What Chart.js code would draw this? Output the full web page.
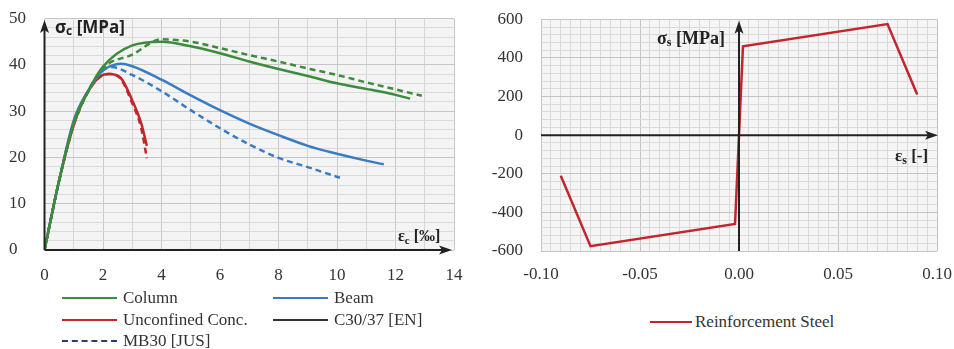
<!DOCTYPE html>
<html>
<head>
<meta charset="utf-8">
<script src="https://cdn.jsdelivr.net/npm/chart.js@4.4.1/dist/chart.umd.min.js"></script>
<style>
  html, body { margin: 0; padding: 0; background: #fff; }
  #wrap { position: relative; width: 954px; height: 349px; overflow: hidden; background: #fff; }
  .cbox { position: absolute; top: 0; height: 290px; width: 477px; }
  .leg { position: absolute; font: 17px "Liberation Serif", serif; color: #333; white-space: nowrap; line-height: 17px; }
  .sw { position: absolute; height: 0; border-top: 2px solid; }
</style>
</head>
<body>
<div id="wrap">
  <div class="cbox" style="left:0"><canvas id="c1"></canvas></div>
  <div class="cbox" style="left:477px"><canvas id="c2"></canvas></div>
  <div id="legends"></div>
</div>
<script>
// ---------- DATA ----------
const columnEN_x = [0, 0.5, 1, 1.5, 2, 3, 4, 5, 6, 7, 8, 9, 10, 11, 12, 12.5];
const columnEN_y = [0, 15, 27.5, 34.4, 39.6, 44.2, 45, 44, 42.5, 40.7, 39.1, 37.6, 36, 34.8, 33.5, 32.7];
const columnJUS_x = [0, 0.5, 1, 1.5, 2, 3, 4, 5, 6, 7, 8, 9, 10, 11, 12, 12.9];
const columnJUS_y = [0, 15, 27, 34.3, 39.3, 42.2, 45.5, 45, 43.6, 42.1, 40.7, 39.2, 37.8, 36.2, 34.7, 33.3];
const beamEN_x = [0, 0.5, 1, 1.5, 2, 2.3, 2.6, 3, 4, 5, 6, 7, 8, 9, 10, 11, 11.6];
const beamEN_y = [0, 15, 28, 34.5, 38.8, 39.8, 40.2, 39.7, 36.8, 33.4, 30.2, 27.3, 24.8, 22.5, 20.8, 19.3, 18.5];
const beamJUS_x = [0, 0.5, 1, 1.5, 2, 2.3, 3, 4, 5, 6, 7, 8, 9, 10.1];
const beamJUS_y = [0, 15, 27.5, 34.5, 38.8, 39.5, 37.8, 34.3, 30.2, 26.3, 22.8, 19.9, 17.9, 15.6];
const unconfEN_x = [0, 0.5, 1, 1.5, 2, 2.2, 2.6, 3, 3.3, 3.5];
const unconfEN_y = [0, 15, 27, 34.3, 37.8, 38, 37.2, 32.3, 27.5, 22.5];
const unconfJUS_x = [0, 0.5, 1, 1.5, 2, 2.2, 2.6, 3, 3.3, 3.5];
const unconfJUS_y = [0, 15, 27, 34.3, 37.8, 38, 37, 31.7, 26.5, 19.8];

const steel_x = [-0.09, -0.075, -0.002, 0.002, 0.075, 0.09];
const steel_y = [-210, -575, -460, 460, 575, 210];

const concreteLegend = ["Column", "Beam", "Unconfined Conc.", "C30/37 [EN]", "MB30 [JUS]"];
const steelLegend = ["Reinforcement Steel"];

const GREEN = "#3d8b3d", BLUE = "#3a7cc4", RED = "#c2262c", BLACK = "#333333", NAVY = "#2f3a6e";

function pts(xs, ys) { return xs.map((x, i) => ({ x: x, y: ys[i] })); }

// ---------- PLUGINS ----------
const plotBg = {
  id: 'plotBg',
  beforeDraw(chart, args, opts) {
    const a = chart.chartArea, c = chart.ctx;
    c.save(); c.fillStyle = opts.color; c.fillRect(a.left, a.top, a.right - a.left, a.bottom - a.top); c.restore();
  }
};

function arrowHead(c, x, y, dir) {
  c.beginPath();
  if (dir === 'up') { c.moveTo(x, y); c.lineTo(x - 4.5, y + 13); c.lineTo(x, y + 10); c.lineTo(x + 4.5, y + 13); }
  else { c.moveTo(x, y); c.lineTo(x - 13, y - 4.5); c.lineTo(x - 10, y); c.lineTo(x - 13, y + 4.5); }
  c.closePath(); c.fill();
}

const axesArrows = {
  id: 'axesArrows',
  afterDatasetsDraw(chart, args, opts) {
    const c = chart.ctx, xs = chart.scales.x, ys = chart.scales.y, a = chart.chartArea;
    const x0 = xs.getPixelForValue(0), y0 = ys.getPixelForValue(0);
    c.save();
    c.strokeStyle = '#222'; c.fillStyle = '#222'; c.lineWidth = 2;
    const tipTop = a.top + opts.topOff, tipRight = a.right + opts.rightOff;
    c.beginPath(); c.moveTo(x0, a.bottom); c.lineTo(x0, tipTop + 6); c.stroke();
    arrowHead(c, x0, tipTop, 'up');
    c.beginPath(); c.moveTo(a.left, y0); c.lineTo(tipRight - 6, y0); c.stroke();
    arrowHead(c, tipRight, y0, 'right');
    c.restore();
  }
};

function drawSub(c, x, y, main, sub, rest, font, subFont) {
  c.font = font; c.fillText(main, x, y);
  let w = c.measureText(main).width;
  c.font = subFont; c.fillText(sub, x + w, y + 4);
  w += c.measureText(sub).width;
  c.font = font; c.fillText(rest, x + w, y);
}

const axisTitles = {
  id: 'axisTitles',
  afterDraw(chart, args, opts) {
    const c = chart.ctx;
    c.save(); c.fillStyle = '#222'; c.textBaseline = 'middle'; c.textAlign = 'left';
    opts.items.forEach(it => drawSub(c, it.x, it.y, it.main, it.sub, it.rest, it.font, it.subFont));
    c.restore();
  }
};

function near(v, step) { return Math.abs(Math.round(v / step) * step - v) < 1e-9; }
const NOTICK = 'rgba(0,0,0,0)';

// ---------- LEFT CHART ----------
function ds(label, xs, ys, color, dashed) {
  return { label: label, data: pts(xs, ys), borderColor: color, backgroundColor: color, borderWidth: 2.5,
           borderDash: dashed ? [6, 4] : [], pointRadius: 0, fill: false, cubicInterpolationMode: 'monotone' };
}

new Chart(document.getElementById('c1'), {
  type: 'line',
  data: { datasets: [
    ds('Column EN', columnEN_x, columnEN_y, GREEN, false),
    ds('Column JUS', columnJUS_x, columnJUS_y, GREEN, true),
    ds('Beam EN', beamEN_x, beamEN_y, BLUE, false),
    ds('Beam JUS', beamJUS_x, beamJUS_y, BLUE, true),
    ds('Unconfined JUS', unconfJUS_x, unconfJUS_y, RED, true),
    ds('Unconfined EN', unconfEN_x, unconfEN_y, RED, false)
  ]},
  options: {
    responsive: true, maintainAspectRatio: false, animation: false,
    layout: { padding: { left: 9, right: 23, top: 18.5, bottom: 0 } },
    plugins: {
      legend: { display: false }, tooltip: { enabled: false },
      plotBg: { color: '#f4f4f5' },
      axesArrows: { topOff: 1.5, rightOff: -2 },
      axisTitles: { items: [
        { x: 55, y: 28, main: 'σ', sub: 'c', rest: ' [MPa]', font: 'bold 17px "Open Sans", sans-serif', subFont: 'bold 12px "Open Sans", sans-serif' },
        { x: 398, y: 237, main: 'ε', sub: 'c', rest: ' [‰]', font: 'bold 16px "Liberation Serif", serif', subFont: 'bold 11px "Liberation Serif", serif' }
      ]}
    },
    scales: {
      x: { type: 'linear', min: 0, max: 14,
        afterFit(s) { s.height = 40; },
        border: { display: false },
        grid: { drawTicks: true, tickLength: 15, tickColor: NOTICK, color: ctx => near(ctx.tick.value, 2) ? '#c9c9c9' : '#d6d6d6', lineWidth: 1 },
        ticks: { stepSize: 1, autoSkip: false, maxRotation: 0, maxTicksLimit: 100, padding: 0, color: '#333',
          font: { family: '"Liberation Serif", serif', size: 17 },
          callback: v => near(v, 2) ? String(Math.round(v)) : '' } },
      y: { type: 'linear', min: 0, max: 50,
        afterFit(s) { s.width = 35.5; },
        border: { display: false },
        grid: { drawTicks: true, tickLength: 8, tickColor: NOTICK, color: ctx => near(ctx.tick.value, 10) ? '#c6c6c6' : '#dadada', lineWidth: 1 },
        ticks: { stepSize: 2, autoSkip: false, maxTicksLimit: 100, crossAlign: 'far', padding: 0, color: '#333',
          font: { family: '"Liberation Serif", serif', size: 17 },
          callback: v => near(v, 10) ? String(Math.round(v)) : '' } }
    }
  },
  plugins: [plotBg, axesArrows, axisTitles]
});

// ---------- RIGHT CHART ----------
new Chart(document.getElementById('c2'), {
  type: 'line',
  data: { datasets: [
    { label: steelLegend[0], data: pts(steel_x, steel_y), borderColor: RED, backgroundColor: RED, borderWidth: 2.5,
      pointRadius: 0, fill: false, tension: 0 }
  ]},
  options: {
    responsive: true, maintainAspectRatio: false, animation: false,
    layout: { padding: { left: 13, right: 17, top: 19.3, bottom: 0 } },
    plugins: {
      legend: { display: false }, tooltip: { enabled: false },
      plotBg: { color: '#f5f5f6' },
      axesArrows: { topOff: 1.4, rightOff: 1 },
      axisTitles: { items: [
        { x: 180, y: 39, main: 'σ', sub: 's', rest: ' [MPa]', font: 'bold 18px "Liberation Serif", serif', subFont: 'bold 12px "Liberation Serif", serif' },
        { x: 418, y: 157, main: 'ε', sub: 's', rest: ' [-]', font: 'bold 17px "Liberation Serif", serif', subFont: 'bold 12px "Liberation Serif", serif' }
      ]}
    },
    scales: {
      x: { type: 'linear', min: -0.1, max: 0.1,
        afterFit(s) { s.height = 39; },
        border: { display: false },
        grid: { drawTicks: true, tickLength: 13, tickColor: NOTICK, color: ctx => near(ctx.tick.value, 0.05) ? '#c4c4c4' : '#dadada', lineWidth: 1 },
        ticks: { stepSize: 0.005, autoSkip: false, maxRotation: 0, maxTicksLimit: 100, padding: 0, color: '#333',
          font: { family: '"Liberation Serif", serif', size: 17 },
          callback: v => near(v, 0.05) ? (Math.abs(v) < 1e-9 ? 0 : v).toFixed(2) : '' } },
      y: { type: 'linear', min: -600, max: 600,
        afterFit(s) { s.width = 51; },
        border: { display: false },
        grid: { drawTicks: true, tickLength: 18, tickColor: NOTICK, color: ctx => near(ctx.tick.value, 200) ? '#c4c4c4' : '#dadada', lineWidth: 1 },
        ticks: { stepSize: 40, autoSkip: false, maxTicksLimit: 100, crossAlign: 'near', padding: 0, color: '#333',
          font: { family: '"Liberation Serif", serif', size: 17 },
          callback: v => near(v, 200) ? String(Math.round(v)) : '' } }
    }
  },
  plugins: [plotBg, axesArrows, axisTitles]
});

// ---------- LEGENDS (HTML) ----------
const legItems = [
  { text: concreteLegend[0], color: GREEN, dash: false, x: 62, y: 298 },
  { text: concreteLegend[1], color: BLUE, dash: false, x: 273, y: 298 },
  { text: concreteLegend[2], color: RED, dash: false, x: 62, y: 320 },
  { text: concreteLegend[3], color: BLACK, dash: false, x: 273, y: 320 },
  { text: concreteLegend[4], color: NAVY, dash: true, x: 62, y: 341 },
  { text: steelLegend[0], color: RED, dash: false, x: 650, y: 322, w: 42, gap: 3 }
];
const L = document.getElementById('legends');
legItems.forEach(it => {
  const w = it.w || 55, gap = it.gap || 6;
  const s = document.createElement('div');
  s.className = 'sw';
  s.style.left = it.x + 'px'; s.style.top = (it.y - 1) + 'px'; s.style.width = w + 'px';
  s.style.borderTopColor = it.color; s.style.borderTopStyle = it.dash ? 'dashed' : 'solid';
  L.appendChild(s);
  const t = document.createElement('div');
  t.className = 'leg'; t.textContent = it.text;
  t.style.left = (it.x + w + gap) + 'px'; t.style.top = (it.y - 9) + 'px';
  L.appendChild(t);
});
</script>
</body>
</html>
